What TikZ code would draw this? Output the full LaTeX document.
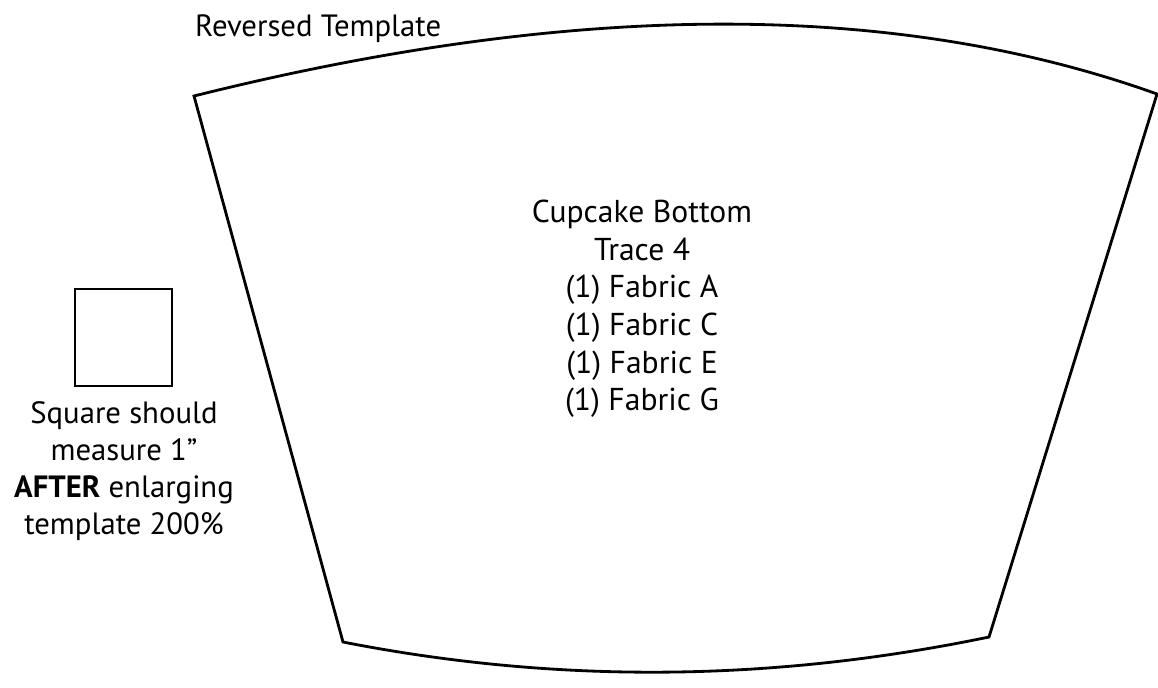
\documentclass[tikz,border=0pt]{standalone}
\usepackage{fontspec}
\setmainfont{PT Sans}
\usepackage{tikz}
\usetikzlibrary{positioning}

\begin{document}
\begin{tikzpicture}[x=0.02cm,y=-0.02cm, outline/.style={line width=1.6pt, line join=miter}]
\useasboundingbox (0,0) rectangle (1158,687);
\coordinate (tl) at (194,96);
\coordinate (tr) at (1157,94);
\coordinate (br) at (989,637);
\coordinate (bl) at (343,642);
\draw [outline] (tl) .. controls (574,1) and (895,0) .. (tr) -- (br)
  .. controls (772,682) and (557,684) .. (bl) -- cycle;
\node [anchor=west, font=\fontsize{17.5}{21}\selectfont] (title) at (189,29) {Reversed Template};
\node [align=center, font=\fontsize{18}{21.4}\selectfont] (label) at (642,309) {Cupcake Bottom\\Trace 4\\(1) Fabric A\\(1) Fabric C\\(1) Fabric E\\(1) Fabric G};
\draw [line width=1.3pt] (75,289) rectangle (172,386) node [midway] (sq) {};
\node [align=center, font=\fontsize{17.5}{21}\selectfont] (note) at (124,471) {Square should\\measure 1”\\\textbf{AFTER} enlarging\\template 200\%};
\end{tikzpicture}
\end{document}
